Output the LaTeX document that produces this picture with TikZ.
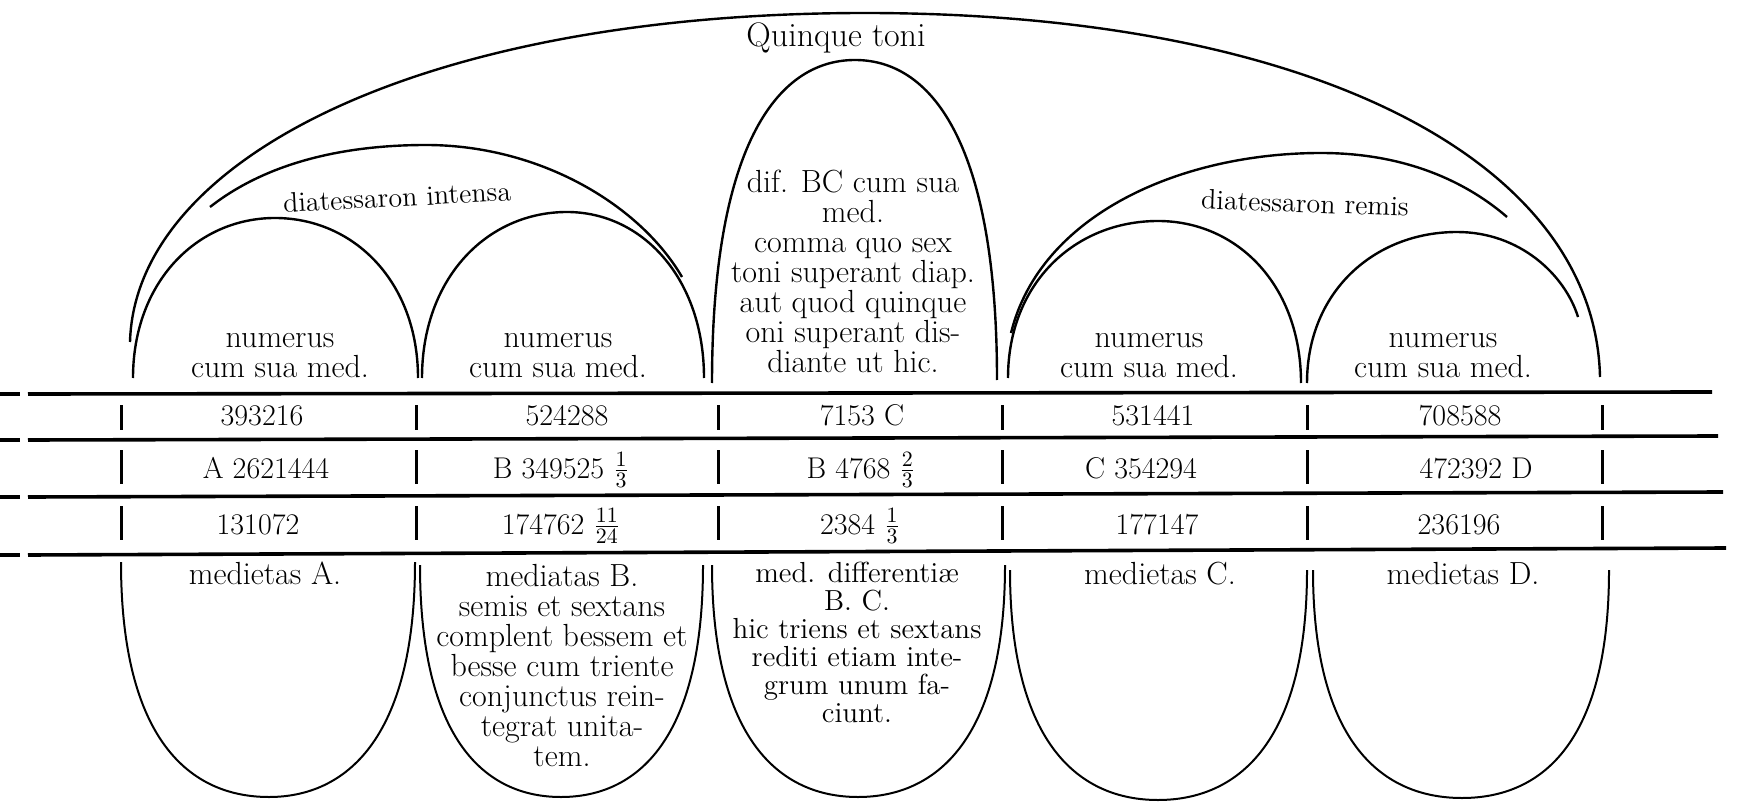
\documentclass[tikz,border=0pt]{standalone}
\usepackage{amsmath}
\usepackage{tikz}

\tikzset{
  arcline/.style = {line width=1.2pt},
  cupline/.style = {line width=1pt},
  rule/.style    = {line width=1.8pt},
  bar/.style     = {line width=1.5pt},
  txt/.style     = {inner sep=0pt, align=center, font=\fontsize{16}{15}\selectfont},
  num/.style     = {inner sep=0pt, anchor=base, font=\fontsize{15}{15}\selectfont},
}

\begin{document}
\begin{tikzpicture}[x=0.5pt, y=-0.5pt]
\useasboundingbox (0,0) rectangle (1754,812);

%% grand arc
\draw[arcline] (130,342) .. controls (135,160) and (420,13) .. (865,13)
  .. controls (1310,13) and (1595,160) .. (1600,377);
\node[txt, font=\fontsize{17}{15}\selectfont] (quinque) at (836,38) {Quinque toni};

%% diatessaron arcs
\draw[arcline] (210,207) .. controls (270,160) and (350,145) .. (426,145)
  .. controls (540,145) and (640,205) .. (682,277);
\draw[arcline] (1011,333) .. controls (1040,215) and (1180,153) .. (1321,153)
  .. controls (1410,153) and (1470,185) .. (1507,217);
\node[txt, font=\fontsize{14}{14}\selectfont, rotate=3] (intensa) at (397,197) {diatessaron intensa};
\node[txt, font=\fontsize{14}{14}\selectfont, rotate=-2] (remis) at (1305,203) {diatessaron remis};

%% small arcs
\draw[arcline] (133,378) .. controls (133,282) and (197,218) .. (275,218)
  .. controls (354,218) and (418,282) .. (418,378);
\draw[arcline] (422,378) .. controls (422,278) and (487,212) .. (567,212)
  .. controls (642,212) and (704,278) .. (704,378);
\draw[arcline] (1008,378) .. controls (1008,283) and (1075,221) .. (1158,221)
  .. controls (1237,221) and (1301,285) .. (1301,383);
\draw[arcline] (1307,383) .. controls (1307,292) and (1374,232) .. (1457,232)
  .. controls (1520,232) and (1565,275) .. (1578,317);

%% middle arch
\draw[arcline] (712,383) .. controls (712,150) and (775,60) .. (855,60)
  .. controls (935,60) and (997,150) .. (997,380);

%% texts above the table
\node[txt] (numA) at (280,356) {numerus\\cum sua med.};
\node[txt] (numB) at (558,356) {numerus\\cum sua med.};
\node[txt] (numC) at (1149,356) {numerus\\cum sua med.};
\node[txt] (numD) at (1443,356) {numerus\\cum sua med.};
\node[txt] (difBC) at (853,271) {dif. BC cum sua\\med.\\comma quo sex\\toni superant diap.\\aut quod quinque\\oni superant dis-\\diante ut hic.};

%% table rules
\draw[rule] (0,394) -- (20,394);
\draw[rule] (28,394) -- (1712,392);
\draw[rule] (0,440) -- (20,440);
\draw[rule] (28,440) -- (1718,436);
\draw[rule] (0,497) -- (20,497);
\draw[rule] (28,497) -- (1723,492);
\draw[rule] (0,555) -- (20,555);
\draw[rule] (28,555) -- (1726,548);

%% bars
\foreach \x in {121,416,718,1002,1307,1602} {
  \draw[bar] (\x,405) -- (\x,430);
  \draw[bar] (\x,450) -- (\x,484);
  \draw[bar] (\x,506) -- (\x,540);
}

%% numbers
\foreach \x/\t [count=\i] in {262/393216, 567/524288, 862/7153 C, 1153/531441, 1460/708588}
  \node[num] (ra\i) at (\x,425) {\t};
\foreach \x/\t [count=\i] in {266/A 2621444, 561/B 349525 $\frac{1}{3}$, 861/B 4768 $\frac{2}{3}$, 1141/C 354294, 1476/472392 D}
  \node[num] (rb\i) at (\x,478) {\t};
\foreach \x/\t [count=\i] in {258/131072, 561/174762 $\frac{11}{24}$, 860/2384 $\frac{1}{3}$, 1157/177147, 1459/236196}
  \node[num] (rc\i) at (\x,534) {\t};

%% cups below the table
\draw[cupline] (121,562) .. controls (121,740) and (190,797) .. (269,797)
  .. controls (345,797) and (415,740) .. (415,562);
\draw[cupline] (420,565) .. controls (420,740) and (485,797) .. (561,797)
  .. controls (637,797) and (703,740) .. (703,565);
\draw[cupline] (712,565) .. controls (712,740) and (780,797) .. (858,797)
  .. controls (936,797) and (1005,740) .. (1005,565);
\draw[cupline] (1010,570) .. controls (1010,745) and (1080,800) .. (1158,800)
  .. controls (1236,800) and (1307,745) .. (1307,570);
\draw[cupline] (1313,570) .. controls (1313,745) and (1384,798) .. (1462,798)
  .. controls (1540,798) and (1609,745) .. (1609,570);

%% texts below the table
\node[txt, anchor=base] (medA) at (265,584) {medietas A.};
\node[txt] (medB) at (562,666) {mediatas B.\\semis et sextans\\complent bessem et\\besse cum triente\\conjunctus rein-\\tegrat unita-\\tem.};
\node[txt, font=\fontsize{14.5}{14}\selectfont] (medBC) at (857,642) {med. differenti\ae{}\\B. C.\\hic triens et sextans\\rediti etiam inte-\\grum unum fa-\\ciunt.};
\node[txt, anchor=base] (medC) at (1160,584) {medietas C.};
\node[txt, anchor=base] (medD) at (1463,584) {medietas D.};
\end{tikzpicture}
\end{document}
